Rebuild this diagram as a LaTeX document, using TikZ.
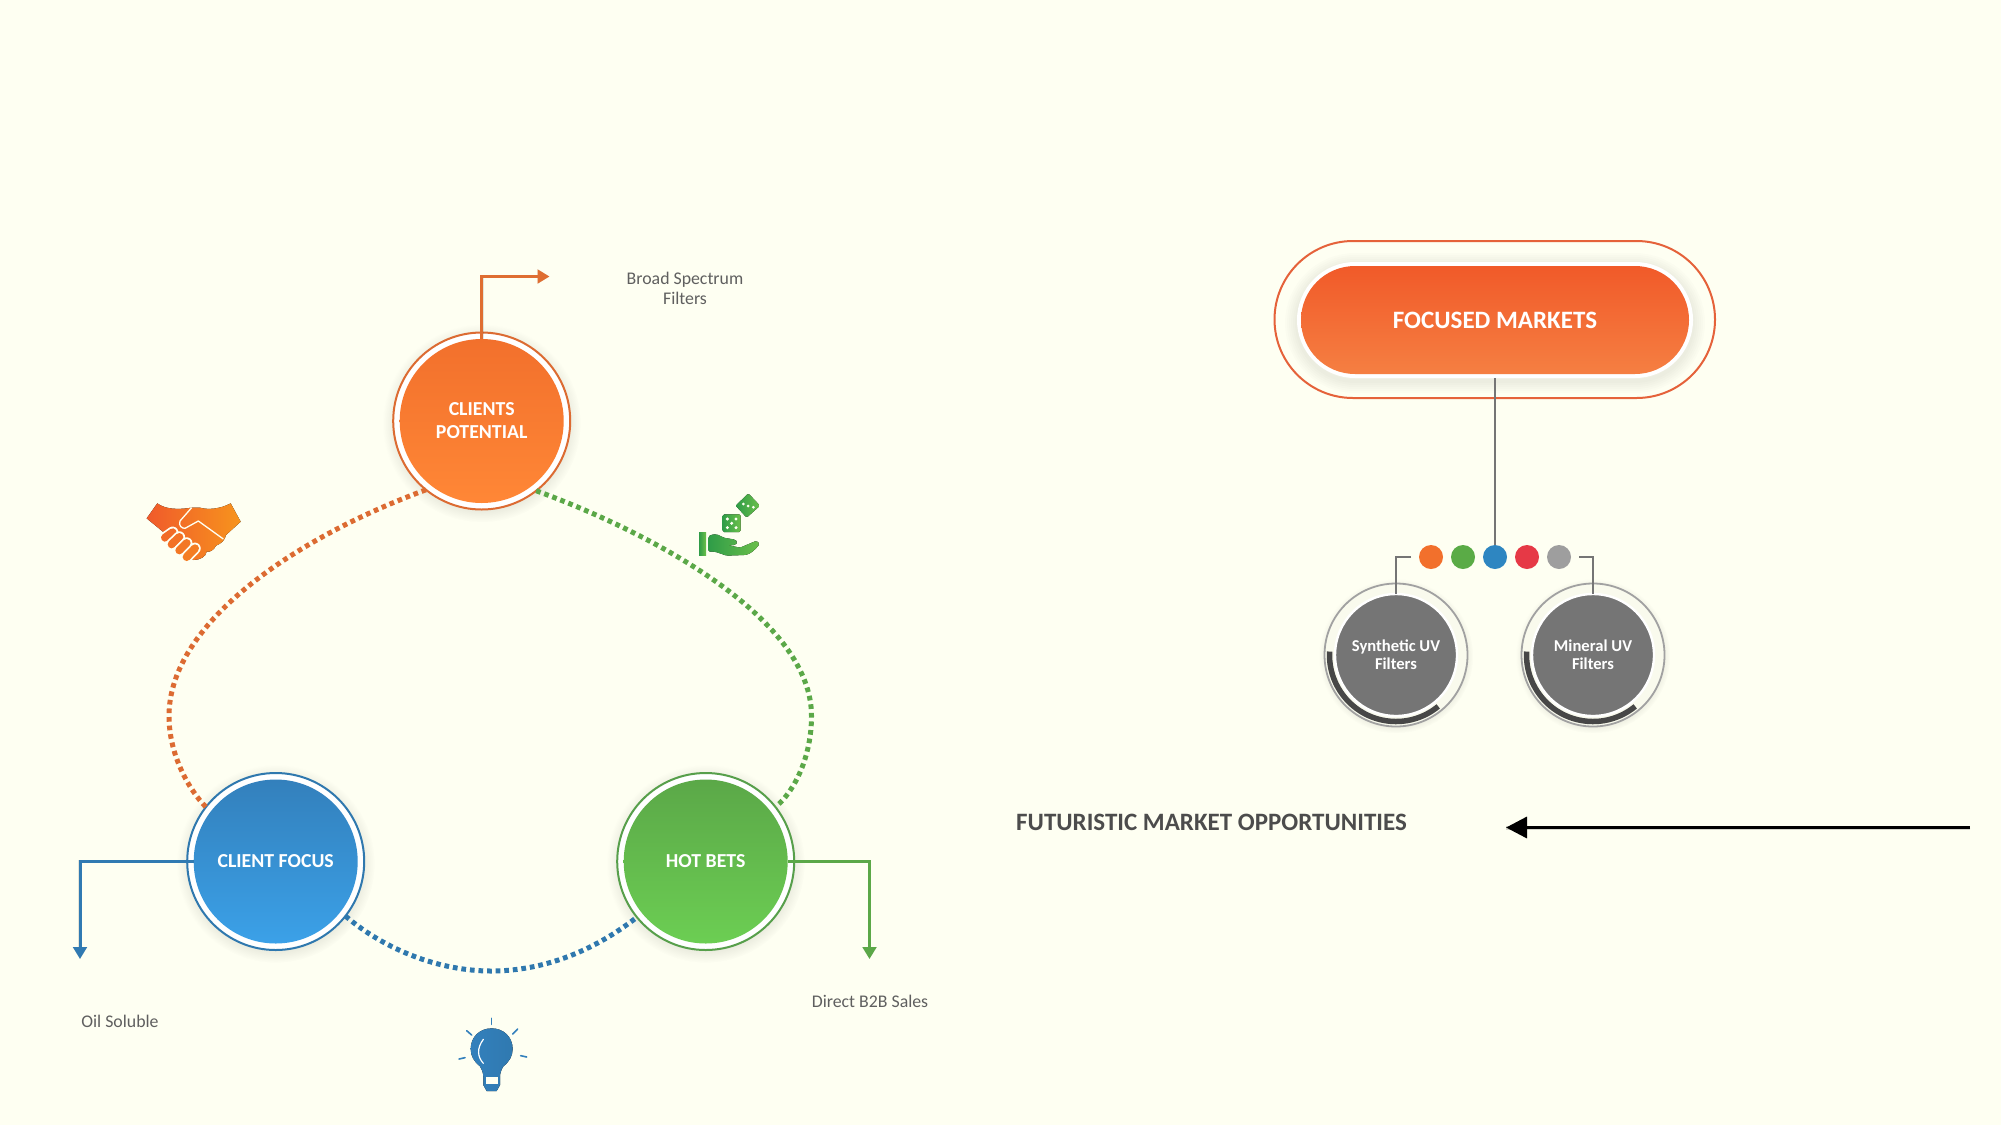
\documentclass[tikz,border=0pt]{standalone}
\usepackage{fontspec}
\setmainfont{Carlito}
\usetikzlibrary{arrows.meta,shapes.misc,shadows,calc}
\definecolor{bgc}{HTML}{FEFFF2}
\definecolor{orr}{HTML}{DC6B32}
\definecolor{ort}{HTML}{F2702C}
\definecolor{orb}{HTML}{FF8736}
\definecolor{blr}{HTML}{2F78AE}
\definecolor{blt}{HTML}{3380BC}
\definecolor{blb}{HTML}{3BA1E8}
\definecolor{grr}{HTML}{579F4B}
\definecolor{grt}{HTML}{5BA848}
\definecolor{grb}{HTML}{6CCE53}
\definecolor{fmr}{HTML}{E5623A}
\definecolor{fmt}{HTML}{F15A29}
\definecolor{fmb}{HTML}{F57F42}
\definecolor{txt}{HTML}{5F5F5F}
\definecolor{lin}{HTML}{757575}
\definecolor{dotg}{HTML}{5AAB46}
\definecolor{dotb}{HTML}{2E86C1}
\definecolor{dotr}{HTML}{E63946}
\definecolor{dotn}{HTML}{9E9E9E}
\definecolor{shakel}{HTML}{F05A2B}
\definecolor{shaker}{HTML}{F7941D}
\definecolor{dicel}{HTML}{2F9C48}
\definecolor{dicer}{HTML}{6CC04A}
\tikzset{
  x=1pt,y=-1pt,
  ringnode/.style={circle,draw=#1,fill=white,line width=2pt,minimum size=177pt,inner sep=0pt,outer sep=0pt,
    circular drop shadow={shadow xshift=0pt,shadow yshift=-2pt,shadow scale=1.12,opacity=.09,fill=black}},
  corenode/.style={circle,minimum size=164pt,inner sep=0pt,text=white,align=center,
    font=\fontsize{19.8}{23}\selectfont\bfseries},
  dotline/.style={draw=#1,line width=5pt,dash pattern=on 4.7pt off 3.9pt},
  elbow/.style={draw=#1,line width=3pt,-{Triangle[length=12pt,width=13.5pt,fill=#1]}},
  elbowshadow/.style={draw=black,opacity=.10,line width=3.6pt,-{Triangle[length=12pt,width=14pt]}},
  caption/.style={text=txt,align=center,font=\fontsize{17.8}{20.3}\selectfont},
  colordot/.style={circle,fill=#1,minimum size=24pt,inner sep=0pt,outer sep=0pt},
  grayring/.style={circle,draw=black!37,fill=bgc!98!black,line width=1.8pt,minimum size=143pt,inner sep=0pt,
    circular drop shadow={shadow xshift=0pt,shadow yshift=-1pt,shadow scale=1.08,opacity=.10,fill=black}},
  graycore/.style={circle,fill=lin,draw=white,line width=2.4pt,minimum size=122pt,inner sep=0pt,outer sep=0pt,
    text=white,align=center,font=\fontsize{16.6}{18}\selectfont\bfseries},
  grayline/.style={draw=lin,line width=2.5pt},
  fingerw/.style={line cap=round,line width=11.5pt,white},
  fingerc/.style={line cap=round,line width=8pt,draw=#1},
  zoomframe/.style={x=0.33333pt,y=-0.33333pt},
}
\begin{document}
\begin{tikzpicture}
\useasboundingbox (0,0) rectangle (2001,1125);
\fill[bgc] (0,0) rectangle (2001,1125);

% left circles
\node[ringnode=orr] (cpring) at (481.7,421) {};
\node[corenode,top color=ort,bottom color=orb] (cp) at (481.7,421) {CLIENTS\\POTENTIAL};
\node[ringnode=blr] (cfring) at (275.7,861.5) {};
\node[corenode,top color=blt,bottom color=blb] (cf) at (275.7,861.5) {CLIENT FOCUS};
\node[ringnode=grr] (hbring) at (705.7,861.5) {};
\node[corenode,top color=grt,bottom color=grb] (hb) at (705.7,861.5) {HOT BETS};

% dotted loop
\coordinate (orangemid) at (169,716);
\coordinate (greenmid) at (811.5,716);
\coordinate (bluemid) at (491,971);
\draw[dotline=orr] (cpring.231) .. controls (300,536) and (169,621) .. (orangemid)
   .. controls (169,756) and (190,791) .. (cfring.142);
\draw[dotline=grt] (cpring.-52) .. controls (660,536) and (811.5,621) .. (greenmid)
   .. controls (811.5,756) and (795,791) .. (hbring.38);
\draw[dotline=blr] (cfring.-38) .. controls (385,950) and (440,971) .. (bluemid)
   .. controls (545,971) and (595,950) .. (hbring.219);

% elbows
\coordinate (cptip) at (549.5,276.5);
\coordinate (cftip) at (80,959);
\coordinate (hbtip) at (869.5,959);
\begin{scope}[shift={(1,3)}]
\draw[elbowshadow] (cp.north) |- (cptip);
\draw[elbowshadow] (cf.west) -| (cftip);
\draw[elbowshadow] (hb.east) -| (hbtip);
\end{scope}
\draw[elbow=orr!90!orb] (cp.north) |- (cptip);
\draw[elbow=blr!70!blt] (cf.west) -| (cftip);
\draw[elbow=grt] (hb.east) -| (hbtip);

% captions
\node[caption] (bs) at (685,288.5) {Broad Spectrum\\Filters};
\node[caption] (oil) at (120,1021) {Oil Soluble};
\node[caption] (b2b) at (870,1001) {Direct B2B Sales};

% focused markets
\foreach \w in {4,8,...,24}
  \draw[line width=\w pt,black,opacity=.012,rounded corners=58pt] (1297,265) rectangle (1693,381);
\draw[fmr,line width=2pt,rounded corners=78.5pt] (1274.5,241) rectangle (1715,398);
\node[rounded rectangle,fill=white,minimum width=396pt,minimum height=116pt,inner sep=0pt,outer sep=0pt] (fmring) at (1495,320) {};
\node[rounded rectangle,top color=fmt,bottom color=fmb,minimum width=388pt,minimum height=108pt,inner sep=0pt,outer sep=0pt,
   text=white,font=\fontsize{25}{28}\selectfont\bfseries] (fm) at (1495,320) {FOCUSED MARKETS};

% dots
\node[colordot=ort] (d1) at (1431,557) {};
\node[colordot=dotg] (d2) at (1463,557) {};
\node[colordot=dotb] (d3) at (1495,557) {};
\node[colordot=dotr] (d4) at (1527,557) {};
\node[colordot=dotn] (d5) at (1559,557) {};
\draw[grayline] (fmring.south) -- (d3.north);

% gray circles
\node[grayring] (sring) at (1396,655) {};
\node[grayring] (mring) at (1593,655) {};
\draw[line width=5.5pt,black!72] (sring.center) ++(-177:66.5) arc[start angle=-177,end angle=-309.4,radius=66.5];
\draw[line width=5.5pt,black!72] (mring.center) ++(-177:66.5) arc[start angle=-177,end angle=-309.4,radius=66.5];
\node[graycore] (s) at (1396,655) {Synthetic UV\\Filters};
\node[graycore] (m) at (1593,655) {Mineral UV\\Filters};
\coordinate (lbstart) at (1411,557);
\coordinate (rbstart) at (1579,557);
\draw[grayline] (lbstart) -| (s.north);
\draw[grayline] (rbstart) -| (m.north);

% futuristic
\node[anchor=west,text=txt!80!black,font=\fontsize{25}{28}\selectfont\bfseries,inner sep=0pt] (fut) at (1016,822) {FUTURISTIC MARKET OPPORTUNITIES};
\coordinate (fastart) at (1970,827.5);
\coordinate (fatip) at (1506,827.5);
\begin{scope}[shift={(1,3)}]
\draw[black,opacity=.16,line width=4pt] (fastart) -- (fatip);
\end{scope}
\draw[black,line width=3.4pt,-{Triangle[length=21pt,width=21pt]}] (fastart) -- (fatip);

% handshake icon
\begin{scope}[shift={(140,495)},zoomframe]
\fill[left color=shakel,right color=shaker]
  (20,70) -- (52,25) .. controls (75,42) and (110,45) .. (155,38) -- (180,38)
  .. controls (205,45) and (240,42) .. (272,25) -- (302,80) -- (258,120)
  .. controls (255,135) and (245,145) .. (228,152) .. controls (222,165) and (210,172) .. (200,170)
  .. controls (198,185) and (180,195) .. (160,195) -- (75,125) -- (75,115) -- cycle;
\draw[bgc,line width=1.3pt,line join=round] (155,38) -- (120,78) .. controls (115,92) and (125,100) .. (135,100) -- (175,78) -- (250,132);
\foreach \a/\b/\c/\d/\e in {75/128/98/112/30,95/148/118/126/40,118/166/140/144/50,140/186/165/160/60}{
  \draw[fingerw,bgc] (\a,\b) -- (\c,\d);
  \draw[fingerc=shaker!\e!shakel] (\a,\b) -- (\c,\d);
}
\end{scope}

% dice and hand icon
\begin{scope}[shift={(690,485)},zoomframe]
\fill[left color=dicel,right color=dicer] (27,142) rectangle (48,212);
\fill[left color=dicel,right color=dicer,rounded corners=1.5pt]
  (55,155) .. controls (65,148) and (80,144) .. (100,158) -- (136,164) -- (143,172) -- (136,180) -- (112,180)
  -- (150,188) -- (200,167) -- (209,177) .. controls (195,195) and (180,207) .. (165,210)
  -- (110,212) -- (75,200) -- (55,200) -- cycle;
\fill[left color=dicel,right color=dicer,rounded corners=1.5pt] (98,88) rectangle (152,141);
\foreach \p/\q in {112/102,138/102,125/115,112/128,138/128}
  \fill[bgc] (\p,\q) circle[radius=5];
\fill[left color=dicel,right color=dicer,rounded corners=1.5pt] (175,25) -- (210,62) -- (170,98) -- (137,62) -- cycle;
\foreach \p/\q in {160/57,174/63,190/67}
  \fill[bgc] (\p,\q) circle[radius=4.5];
\end{scope}

% bulb icon
\begin{scope}[shift={(430,990)},zoomframe]
\fill[left color=blt,right color=blr!85!blt]
  (160,262) .. controls (160,248) and (156,240) .. (150,229) .. controls (132,215) and (122,198) .. (122,177)
  .. controls (122,140) and (150,115) .. (185,115)
  .. controls (220,115) and (248,140) .. (248,177) .. controls (248,198) and (238,215) .. (220,229)
  .. controls (214,240) and (210,248) .. (210,262) -- (210,285) -- (200,303) -- (170,303) -- (160,285) -- cycle;
\fill[bgc] (167,262) rectangle (205,283);
\draw[white,line width=1.2pt,line cap=round] (160,148) .. controls (140,175) and (142,200) .. (160,220);
\draw[blt,line width=1.6pt,line cap=round] (185,85) -- (185,103);
\draw[blt,line width=1.6pt,line cap=round] (110,122) -- (125,135);
\draw[blt,line width=1.6pt,line cap=round] (263,117) -- (248,132);
\draw[blt,line width=1.6pt,line cap=round] (87,207) -- (105,203);
\draw[blt,line width=1.6pt,line cap=round] (272,197) -- (290,201);
\end{scope}
\end{tikzpicture}
\end{document}
